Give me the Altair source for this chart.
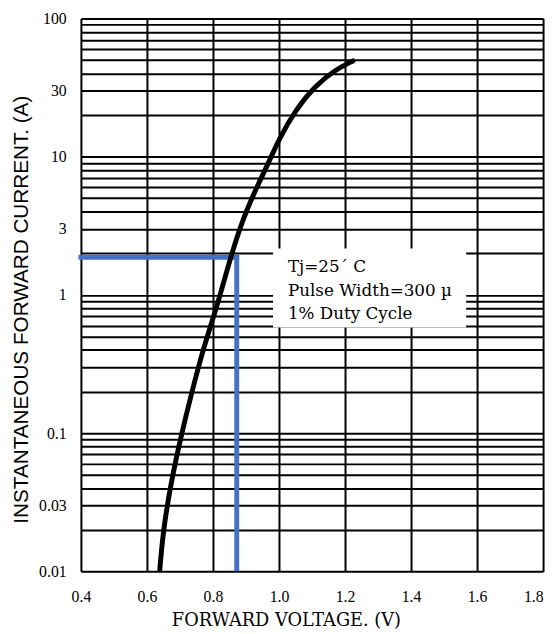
import altair as alt
import pandas as pd

# Forward characteristic (V, A)
voltage = [0.639, 0.648, 0.672, 0.702, 0.731, 0.773, 0.812, 0.851, 0.863, 0.892,
           0.931, 0.970, 1.000, 1.051, 1.110, 1.170, 1.224]
current = [0.0103, 0.0187, 0.043, 0.092, 0.178, 0.43, 0.82, 1.78, 2.2, 3.6,
           5.9, 9.2, 13.4, 22.0, 32.7, 42.5, 49.3]

x_ticks = [0.4, 0.6, 0.8, 1.0, 1.2, 1.4, 1.6, 1.8]
y_grid = [0.01, 0.02, 0.03, 0.04, 0.05, 0.06, 0.07, 0.08, 0.09,
          0.1, 0.2, 0.3, 0.4, 0.5, 0.6, 0.7, 0.8, 0.9,
          1, 2, 3, 4, 5, 6, 7, 8, 9,
          10, 20, 30, 40, 50, 60, 70, 80, 90, 100]
y_labels = ["100", "30", "10", "3", "1", "0.1", "0.03", "0.01"]

marker_v = [0.872]
marker_i = [1.87]

note_lines = ["Tj=25´ C", "Pulse Width=300 µ", "1% Duty Cycle"]
note_v = [1.027, 1.027, 1.027]
note_i = [1.585, 1.068, 0.731]
box_v = [0.982]
box_v2 = [1.567]
box_i = [2.17]
box_i2 = [0.58]

xs = alt.Scale(domain=[0.4, 1.8], nice=False, zero=False)
ys = alt.Scale(type="log", domain=[0.01, 100], nice=False)

label_expr = ("indexof([" + ",".join("'%s'" % s for s in y_labels) +
              "], format(datum.value, '~g')) >= 0 ? format(datum.value, '~g') : ''")

x_axis = alt.Axis(values=x_ticks, format=".1f", grid=True, gridColor="black",
                  gridWidth=2, gridOpacity=1, domain=False, ticks=False, tickSize=0,
                  labelFont="Liberation Serif", labelFontSize=16, labelColor="black",
                  labelPadding=18, labelBaseline="top", labelOverlap=False, labelFlush=False,
                  labelAlign={"expr": "datum.value >= 1.79 ? 'right' : 'center'"},
                  title="FORWARD VOLTAGE. (V)", titleFont="DejaVu Serif", titleFontSize=18,
                  titleFontWeight="normal", titleColor="black", titleX=208, titleY=55,
                  titleAlign="center", titleBaseline="alphabetic")
y_axis = alt.Axis(values=y_grid, labelExpr=label_expr, grid=True, gridColor="black",
                  gridWidth=2, gridOpacity=1, domain=False, ticks=False, tickSize=0,
                  labelFont="Liberation Serif", labelFontSize=16, labelColor="black",
                  labelPadding=15, labelBaseline="middle", labelOverlap=False, labelFlush=False,
                  title="INSTANTANEOUS FORWARD CURRENT. (A)", titleFont="Liberation Sans",
                  titleFontSize=21, titleFontWeight="normal", titleColor="black",
                  titleX=-60, titleY=295, titleAngle=270, titleAlign="center",
                  titleBaseline="middle")

curve_df = pd.DataFrame({"V": voltage, "I": current})
marker_df = pd.DataFrame({"V": marker_v, "I": marker_i, "V0": [x_ticks[0]], "I0": [y_grid[0]]})
note_df = pd.DataFrame({"V": note_v, "I": note_i, "t": note_lines})
box_df = pd.DataFrame({"V": box_v, "V2": box_v2, "I": box_i, "I2": box_i2})

X = lambda f: alt.X(f, scale=xs, axis=x_axis)
Y = lambda f: alt.Y(f, scale=ys, axis=y_axis)

curve = alt.Chart(curve_df).mark_line(color="black", strokeWidth=5, interpolate="basis",
                                       strokeCap="round").encode(
    x=X("V:Q"), y=Y("I:Q"),
)

box = alt.Chart(box_df).mark_rect(fill="white").encode(
    x=X("V:Q"), x2="V2:Q", y=Y("I:Q"), y2="I2:Q",
)

note = alt.Chart(note_df).mark_text(align="left", baseline="middle", font="DejaVu Serif",
                                    fontSize=17, color="black").encode(
    x=X("V:Q"), y=Y("I:Q"), text="t:N",
)

blue_h = alt.Chart(marker_df).mark_rule(color="#4472C4", strokeWidth=5, strokeCap="square").encode(
    x=X("V0:Q"), x2="V:Q", y=Y("I:Q"),
)
blue_v = alt.Chart(marker_df).mark_rule(color="#4472C4", strokeWidth=5, strokeCap="butt").encode(
    x=X("V:Q"), y=Y("I0:Q"), y2="I:Q",
)

chart = alt.layer(box, note, blue_h, blue_v, curve).properties(
    width=469, height=561,
    autosize=alt.AutoSizeParams(type="none"),
    padding={"left": 74, "top": 6, "right": 6, "bottom": 59},
    background="white",
).configure_view(stroke=None)

chart.save("out.html", embed_options={"renderer": "svg", "actions": False})
